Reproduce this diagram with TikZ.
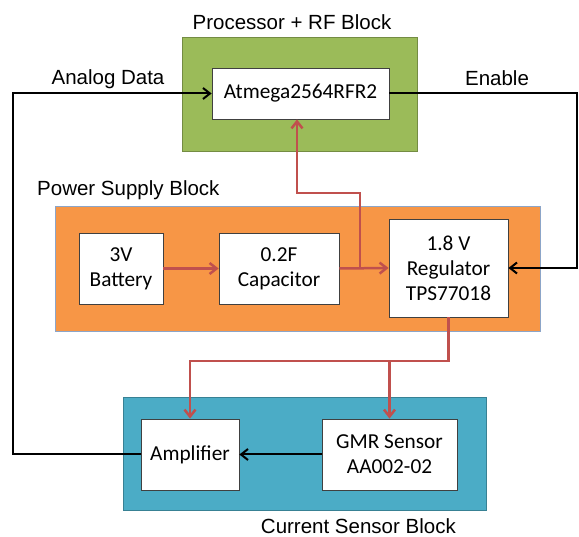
\documentclass[tikz,border=0pt]{standalone}
\usepackage{fontspec}
\setmainfont{Carlito}
\newfontfamily\labelfont{Liberation Sans}
\definecolor{procgreen}{RGB}{155, 187, 89}
\definecolor{powerorange}{RGB}{247, 150, 70}
\definecolor{poweredge}{RGB}{140, 165, 200}
\definecolor{sensblue}{RGB}{75, 172, 198}
\definecolor{supplyred}{RGB}{192, 80, 77}
\usetikzlibrary{arrows.meta, positioning, calc}

\begin{document}
\begin{tikzpicture}[x=1pt, y=-1pt,
  block/.style={draw=#1!75!black, fill=#1, line width=1pt, inner sep=0pt},
  part/.style={draw=black!75, fill=white, line width=0.8pt, align=center, inner sep=0pt, font=\fontsize{21.3}{25}\selectfont},
  title/.style={font=\labelfont\fontsize{20.5}{24}\selectfont, inner sep=0pt},
  signal/.style={-{Straight Barb[length=7pt, width=11pt]}, line width=2pt},
  power/.style={-{Straight Barb[length=7pt, width=11pt]}, line width=2.5pt, draw=supplyred}
]
  \useasboundingbox (0,0) rectangle (579,537);

  % blocks
  \node[block=procgreen, minimum width=235pt, minimum height=114pt] (proc) at (299.5,95) {};
  \node[block=powerorange, draw=poweredge, minimum width=485pt, minimum height=125pt] (power) at (297.5,269.5) {};
  \node[block=sensblue, minimum width=363pt, minimum height=113pt] (sense) at (304.5,454.5) {};

  \node[title] (proctitle) at (292,22) {Processor + RF Block};
  \node[title, anchor=west] (powertitle) at (37,190) {Power Supply Block};
  \node[title, anchor=east] (sensetitle) at (456,526) {Current Sensor Block};

  % parts
  \node[part, minimum width=177pt, minimum height=51pt] (atmega) at (300.5,93.5) {Atmega2564RFR2};
  \node[part, minimum width=84pt, minimum height=71pt] (battery) at (121,268.5) {3V\\Battery};
  \node[part, minimum width=120pt, minimum height=71pt] (cap) at (279,268.5) {0.2F\\Capacitor};
  \node[part, minimum width=119pt, minimum height=98pt] (reg) at (448.5,268) {1.8 V\\Regulator\\TPS77018};
  \node[part, minimum width=98pt, minimum height=71pt] (amp) at (190,454.5) {Amplifier};
  \node[part, minimum width=135pt, minimum height=71pt] (gmr) at (389.5,454.5) {GMR Sensor\\AA002-02};

  \coordinate (leftrail) at (13,0);
  \coordinate (rightrail) at (577,0);
  \coordinate (tap) at (360,268);
  \coordinate (upbend) at (297,193);
  \coordinate (splitbus) at (448,361);

  % signals
  \draw[signal] (amp.west) -- (amp.west -| leftrail) -- (leftrail |- atmega.west) -- (atmega.west);
  \draw[signal] (atmega.east) -- (atmega.east -| rightrail) -- (rightrail |- reg.east) -- (reg.east);
  \draw[signal] (gmr.west) -- (amp.east);
  \node[title] (analoglabel) at (108,79) {Analog Data};
  \node[title] (enablelabel) at (497,78) {Enable};

  % supply
  \draw[power] (battery.east) -- (cap.west);
  \draw[power] (cap.east) -- (reg.west);
  \draw[power] (tap) |- (upbend) -- (upbend |- atmega.south);
  \draw[power] (reg.south) -- (reg.south |- splitbus) -| (amp.north);
  \draw[power] (gmr.north |- splitbus) -- (gmr.north);
\end{tikzpicture}
\end{document}
